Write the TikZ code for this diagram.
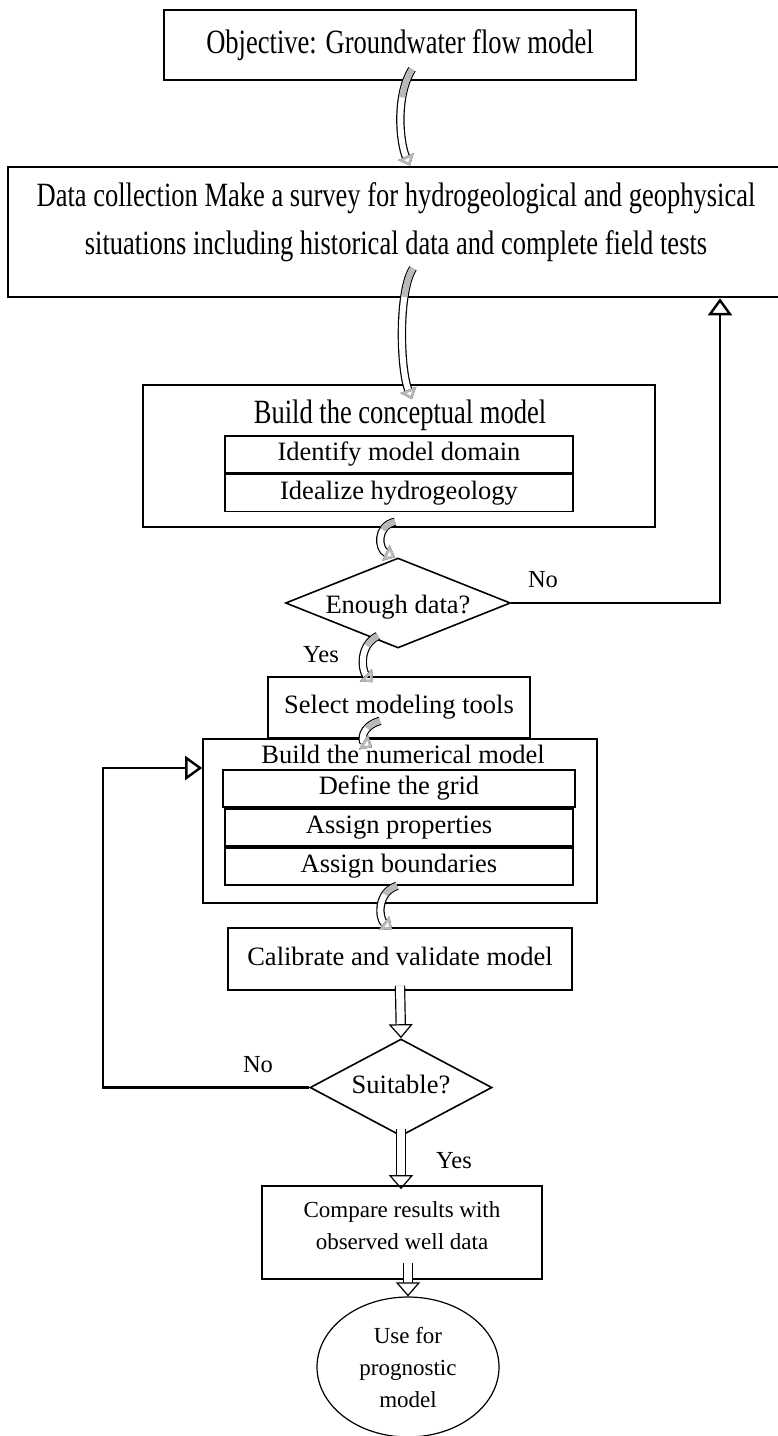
\documentclass[tikz,border=0pt]{standalone}
\usepackage{fontspec}
\setmainfont{Liberation Serif}
\newfontfamily\condfont[FakeStretch=0.78]{Liberation Serif}
\usetikzlibrary{positioning,arrows.meta,shapes.geometric,calc}

\begin{document}
\begin{tikzpicture}[
  x=1pt, y=1pt,
  txt/.style={font=\fontsize{26.5}{31}\selectfont,text height=18pt,text depth=6pt},
  box/.style={txt,draw,line width=1.6pt,inner sep=0pt},
  frame/.style={draw,line width=1.6pt,inner sep=0pt},
  heavy/.style={draw,line width=2.6pt,inner sep=0pt},
  head/.style={font=\condfont\fontsize{34}{48}\selectfont,inner sep=0pt},
  sub/.style={box,minimum width=348pt,minimum height=37pt},
  decision/.style={txt,diamond,draw,line width=1.6pt,inner sep=0pt},
  lbl/.style={font=\fontsize{24.5}{28}\selectfont,inner sep=0pt},
  small/.style={font=\fontsize{23}{32}\selectfont,align=center,inner sep=0pt},
  curly/.style={double=white,double distance=6pt,line width=1.2pt,
    -{Triangle[open,length=10pt,width=17pt]},
    postaction={draw=gray!55,line width=6pt,dash pattern=on #1 off 400pt}},
  curly/.default=15pt,
  hollow/.style={double=white,double distance=8pt,line width=1.2pt,
    -{Triangle[open,length=14pt,width=24pt]}},
  back/.style={line width=2.8pt,-{Triangle[open,length=17pt,width=24pt,line width=2.4pt]}}
]
\useasboundingbox (0,0) rectangle (777,-1436);

% objective and data collection
\node[heavy,head,text height=23pt,text depth=7pt,
  minimum width=472pt,minimum height=70pt] (obj) at (400,-45) {Objective: Groundwater flow model};
\node[heavy,head,align=center,minimum width=776pt,minimum height=130pt,text depth=27pt] (dat) at (396,-232)
  {Data collection Make a survey for hydrogeological and geophysical\\situations including historical data and complete field tests};

% conceptual model
\node[frame,minimum width=512pt,minimum height=142pt] (con) at (399,-456) {};
\node[head,text height=23pt,text depth=7pt] (ctitle) at (400,-415) {Build the conceptual model};
\node[sub] (dom) at (399,-454.5) {Identify model domain};
\node[sub,below=0pt of dom] (hyd) {Idealize hydrogeology};

\node[decision,aspect=2.5,text height=26pt,minimum width=224pt,minimum height=90pt] (enough) at (398,-603) {Enough data?};
\node[lbl] (no1) at (543,-580) {No};
\node[lbl] (yes1) at (321,-655) {Yes};

% numerical model
\node[box,minimum width=262pt,minimum height=61pt] (sel) at (399,-707.5) {Select modeling tools};
\node[frame,minimum width=394pt,minimum height=164pt] (num) at (400,-821) {};
\node[txt,inner sep=0pt] (ntitle) at (403,-757) {Build the numerical model};
\node[sub,line width=2.8pt,minimum width=352pt] (grid) at (399,-788.5) {Define the grid};
\node[sub,below=0pt of grid] (prop) {Assign properties};
\node[sub,below=0pt of prop] (bnd) {Assign boundaries};

\node[box,minimum width=344pt,minimum height=62pt] (cal) at (400,-959) {Calibrate and validate model};
\node[decision,aspect=1.88,minimum width=182pt,minimum height=97pt] (suit) at (401,-1087.5) {Suitable?};
\node[lbl] (no2) at (258,-1065) {No};
\node[lbl] (yes2) at (454,-1161) {Yes};
\node[draw,line width=1.6pt,small,text depth=13pt,minimum width=280pt,minimum height=93pt] (cmp) at (402,-1232.5)
  {Compare results with\\observed well data};
\node[ellipse,draw,line width=1.2pt,small,minimum width=182pt,minimum height=140pt] (use) at (408,-1367)
  {Use for\\prognostic\\model};

% curly links
\draw[curly=30pt] ([xshift=12pt,yshift=12pt]obj.south) .. controls +(-17,-27) and +(-10,22) .. ([xshift=14pt]dat.north);
\draw[curly=30pt] ([xshift=17pt,yshift=30pt]dat.south) .. controls +(-15,-23) and +(-12,30) .. ([xshift=13pt,yshift=-15pt]con.north);
\draw[curly] ([xshift=-4pt,yshift=6pt]con.south) .. controls +(-19,-4) and +(-17,8) .. ([xshift=-3pt]enough.north);
\draw[curly] ([xshift=-20pt,yshift=13pt]enough.south) .. controls +(-20,-10) and +(-11,11) .. ([xshift=-26pt,yshift=-6pt]sel.north);
\draw[curly] ([xshift=-19pt,yshift=18pt]sel.south) .. controls +(-20,-6) and +(-10,6) .. ([xshift=-28pt,yshift=-9pt]num.north);
\draw[curly] ([xshift=-3pt,yshift=18pt]num.south) .. controls +(-21,-7) and +(-13,10) .. ([xshift=-8pt,yshift=-2pt]cal.north);

% hollow links
\draw[hollow] ([yshift=5pt]cal.south) -- (suit.north);
\draw[hollow] ([yshift=8pt]suit.south) -- ([yshift=-4pt]suit.south |- cmp.north);
\draw[hollow] ([yshift=17pt]use.north |- cmp.south) -- (use.north);

% feedback loops
\draw[back] (enough.east) -| ([xshift=324pt]dat.south);
\coordinate (bend) at (103,-768);
\draw[back] (suit.west) -| (bend) -- (bend -| num.west);
\end{tikzpicture}
\end{document}
